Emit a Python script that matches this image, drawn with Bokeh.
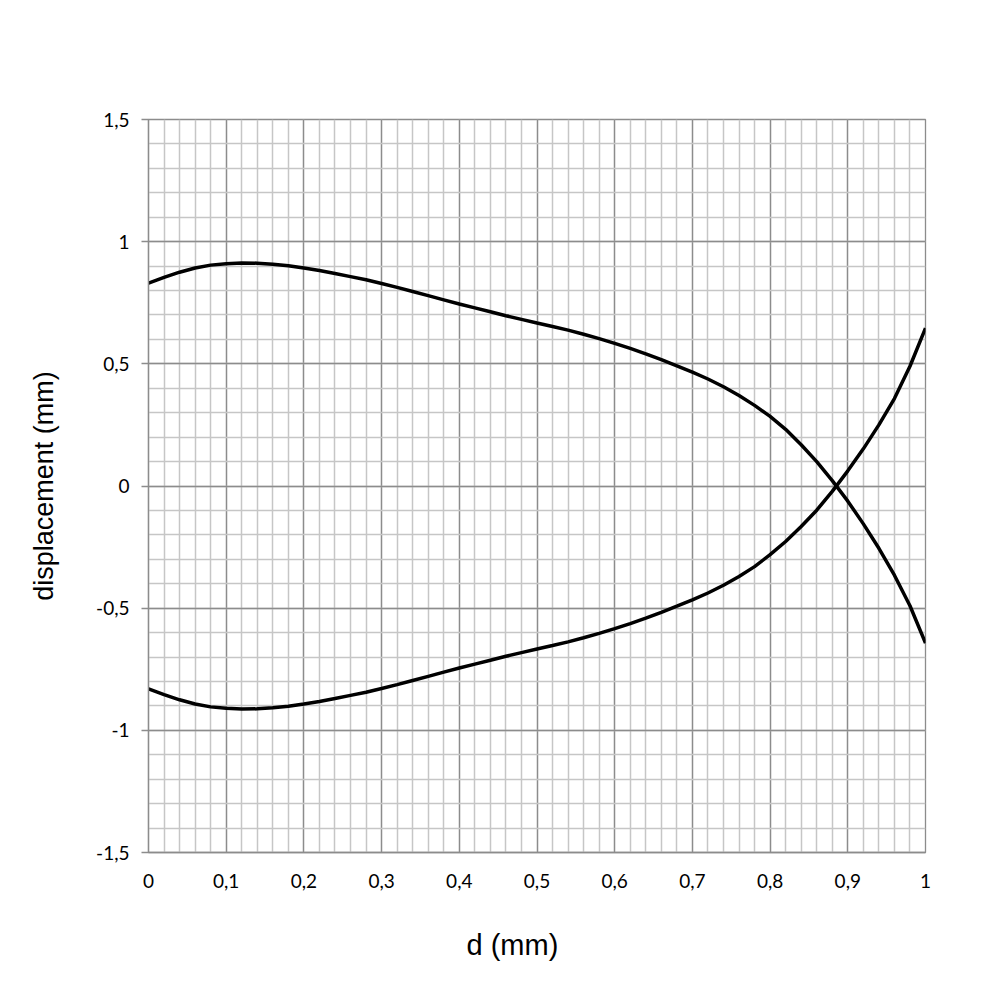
from bokeh.plotting import figure
from bokeh.models import FixedTicker, Range1d, Title
from bokeh.embed import file_html
from bokeh.resources import INLINE

# ---- data ----
d_mm = [0.00, 0.02, 0.04, 0.06, 0.08, 0.10, 0.12, 0.14, 0.16, 0.18,
        0.20, 0.22, 0.24, 0.26, 0.28, 0.30, 0.32, 0.34, 0.36, 0.38,
        0.40, 0.42, 0.44, 0.46, 0.48, 0.50, 0.52, 0.54, 0.56, 0.58,
        0.60, 0.62, 0.64, 0.66, 0.68, 0.70, 0.72, 0.74, 0.76, 0.78,
        0.80, 0.82, 0.84, 0.86, 0.88, 0.90, 0.92, 0.94, 0.96, 0.98, 1.00]

upper = [0.830, 0.854, 0.875, 0.892, 0.904, 0.910, 0.913, 0.912, 0.908, 0.901,
         0.892, 0.882, 0.870, 0.857, 0.844, 0.829, 0.813, 0.796, 0.779, 0.762,
         0.745, 0.729, 0.713, 0.697, 0.682, 0.667, 0.653, 0.638, 0.621, 0.603,
         0.584, 0.563, 0.541, 0.517, 0.492, 0.466, 0.438, 0.406, 0.370, 0.330,
         0.285, 0.232, 0.169, 0.100, 0.022, -0.062, -0.155, -0.255, -0.365, -0.490, -0.643]

lower = [-0.830, -0.854, -0.875, -0.892, -0.904, -0.910, -0.913, -0.912, -0.908, -0.901,
         -0.892, -0.882, -0.870, -0.857, -0.844, -0.829, -0.813, -0.796, -0.779, -0.762,
         -0.745, -0.729, -0.713, -0.697, -0.682, -0.667, -0.653, -0.638, -0.621, -0.603,
         -0.584, -0.563, -0.541, -0.517, -0.492, -0.466, -0.438, -0.406, -0.370, -0.330,
         -0.281, -0.227, -0.166, -0.099, -0.022, 0.062, 0.152, 0.250, 0.358, 0.490, 0.646]

x_ticks = [0.0, 0.1, 0.2, 0.3, 0.4, 0.5, 0.6, 0.7, 0.8, 0.9, 1.0]
x_tick_labels = ["0", "0,1", "0,2", "0,3", "0,4", "0,5", "0,6", "0,7", "0,8", "0,9", "1"]
x_minor = [round(i * 0.02, 2) for i in range(51)]

y_ticks = [-1.5, -1.0, -0.5, 0.0, 0.5, 1.0, 1.5]
y_tick_labels = ["-1,5", "-1", "-0,5", "0", "0,5", "1", "1,5"]
y_minor = [round(-1.5 + i * 0.1, 2) for i in range(31)]

x_title = "d (mm)"
y_title = "displacement (mm)"

MAJOR = "#8c8c8c"
MINOR = "#c6c6c6"

W, H = 990, 998
p = figure(width=W, height=H, output_backend="svg", toolbar_location=None,
           x_range=Range1d(0, 1), y_range=Range1d(-1.5, 1.5),
           min_border_left=148, min_border_right=W - 925,
           min_border_top=119, min_border_bottom=H - 852)
p.background_fill_color = "white"
p.border_fill_color = "white"
p.outline_line_color = MAJOR
p.outline_line_width = 1.3

p.xaxis.ticker = FixedTicker(ticks=x_ticks, minor_ticks=x_minor)
p.yaxis.ticker = FixedTicker(ticks=y_ticks, minor_ticks=y_minor)
p.xaxis.major_label_overrides = {t: l for t, l in zip(x_ticks, x_tick_labels)}
p.yaxis.major_label_overrides = {t: l for t, l in zip(y_ticks, y_tick_labels)}

for g in (p.xgrid, p.ygrid):
    g.grid_line_color = MAJOR
    g.grid_line_width = 1.3
    g.minor_grid_line_color = MINOR
    g.minor_grid_line_width = 1.5

for ax in (p.xaxis, p.yaxis):
    ax.axis_line_color = MAJOR
    ax.axis_line_width = 1.3
    ax.major_tick_line_color = MAJOR
    ax.major_tick_line_width = 1.3
    ax.minor_tick_line_color = None
    ax.major_tick_in = 0
    ax.minor_tick_in = 0
    ax.minor_tick_out = 0
    ax.major_label_text_font = "Lato"
    ax.major_label_text_font_size = "19px"
    ax.major_label_text_color = "black"
    ax.axis_label_text_font = "Liberation Sans"
    ax.axis_label_text_font_style = "normal"
    ax.axis_label_text_color = "black"

p.xaxis.major_tick_out = 0
p.xaxis.major_label_standoff = 21

p.yaxis.major_tick_out = 7
p.yaxis.major_label_standoff = 12
p.yaxis.axis_label = y_title
p.yaxis.axis_label_text_font_size = "27px"
p.yaxis.axis_label_standoff = 34

# x-axis title sits left of the frame centre in the reference
p.add_layout(Title(text=x_title, align="left", offset=318, standoff=72,
                   text_font="Liberation Sans", text_font_size="29px",
                   text_font_style="normal", text_color="black"), "below")

p.line(d_mm, upper, line_color="black", line_width=3.5)
p.line(d_mm, lower, line_color="black", line_width=3.5)

open("out.html", "w").write(file_html(p, INLINE))
